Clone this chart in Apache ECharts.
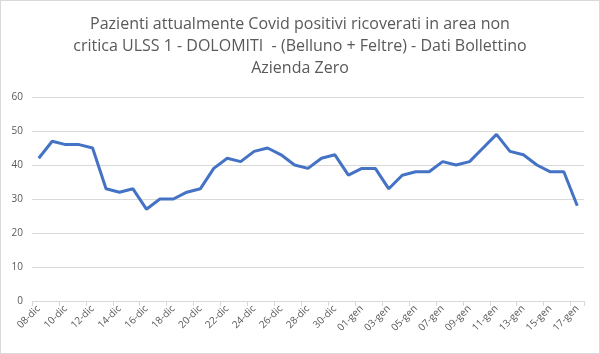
<!DOCTYPE html>
<html><head><meta charset="utf-8">
<script src="https://cdn.jsdelivr.net/npm/echarts@6/dist/echarts.min.js"></script>
<style>html,body{margin:0;padding:0;background:#fff}#c{width:600px;height:354px;box-sizing:border-box;border:1px solid #d9d9d9}</style>
</head><body><div id="c"></div>
<script>
const categories = ["08-dic","09-dic","10-dic","11-dic","12-dic","13-dic","14-dic","15-dic","16-dic","17-dic","18-dic","19-dic","20-dic","21-dic","22-dic","23-dic","24-dic","25-dic","26-dic","27-dic","28-dic","29-dic","30-dic","31-dic","01-gen","02-gen","03-gen","04-gen","05-gen","06-gen","07-gen","08-gen","09-gen","10-gen","11-gen","12-gen","13-gen","14-gen","15-gen","16-gen","17-gen"];
const values = [42,47,46,46,45,33,32,33,27,30,30,32,33,39,42,41,44,45,43,40,39,42,43,37,39,39,33,37,38,38,41,40,41,45,49,44,43,40,38,38,28];
const titleText = "Pazienti attualmente Covid positivi ricoverati in area non\ncritica ULSS 1 - DOLOMITI  - (Belluno + Feltre) - Dati Bollettino\nAzienda Zero";
const chart = echarts.init(document.getElementById('c'));
chart.setOption({
  animation:false,
  title:{text:titleText,left:'center',top:7,textStyle:{fontFamily:'Open Sans',fontWeight:'normal',fontSize:16,color:'#595959',lineHeight:22}},
  grid:{left:31,right:15,top:96,bottom:52},
  xAxis:{type:'category',data:categories,boundaryGap:true,
    axisLine:{lineStyle:{color:'#d9d9d9'}},
    axisTick:{show:true,interval:1,length:5,lineStyle:{color:'#d9d9d9'}},
    axisLabel:{interval:1,rotate:45,fontSize:10,color:'#595959',fontFamily:'Open Sans',margin:6}},
  yAxis:{type:'value',min:0,max:60,interval:10,
    axisLine:{show:false},axisTick:{show:false},
    splitLine:{lineStyle:{color:'#d9d9d9'}},
    axisLabel:{fontSize:10,color:'#595959',fontFamily:'Open Sans',margin:9}},
  series:[{type:'line',data:values,symbol:'none',lineStyle:{color:'#4472C4',width:3}}]
});
</script></body></html>
